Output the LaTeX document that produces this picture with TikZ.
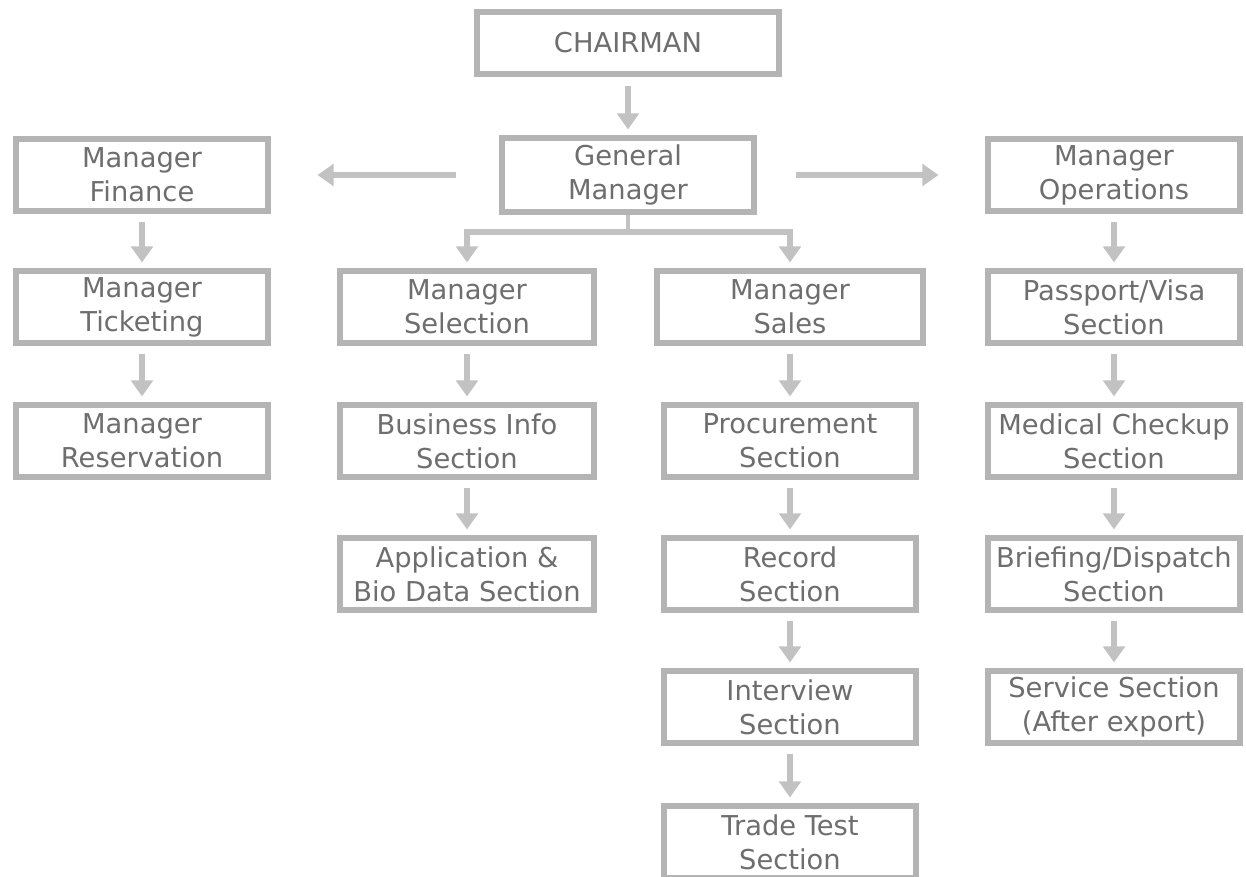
\documentclass[tikz,border=0pt]{standalone}
\usepackage{fontspec}
\setmainfont{DejaVu Sans}
\usetikzlibrary{arrows.meta}
\definecolor{boxc}{HTML}{B4B4B4}
\definecolor{txtc}{HTML}{6E6E6E}
\definecolor{arrc}{HTML}{C2C2C2}
\begin{document}
\begin{tikzpicture}[x=0.75pt,y=-0.75pt,
  box/.style={draw=boxc, line width=4.3pt, fill=white, text=txtc, align=center,
    font=\fontsize{20.5}{25.5}\selectfont, minimum width=189pt, minimum height=54.5pt, inner sep=0pt},
  arr/.style={draw=arrc, line width=5pt, -{Triangle[width=16pt,length=12pt]}},
  link/.style={draw=arrc, line width=3.5pt}]
\useasboundingbox[fill=white] (0,0) rectangle (1246,877);
% nodes
\node[box, minimum width=227pt, minimum height=46.5pt] (ch) at (628,43) {CHAIRMAN};
\node[box, minimum height=56pt] (gm) at (628,175) {General\\Manager};
\node[box] (fin) at (142,175) {Manager\\Finance};
\node[box] (tic) at (142,307) {Manager\\Ticketing};
\node[box] (res) at (142,441) {Manager\\Reservation};
\node[box, minimum width=191pt] (sel) at (467,307) {Manager\\Selection};
\node[box, minimum width=191pt] (bus) at (467,441) {Business Info\\Section};
\node[box, minimum width=191pt] (app) at (467,574) {Application \&\\Bio Data Section};
\node[box, minimum width=200pt] (sal) at (790,307) {Manager\\Sales};
\node[box] (pro) at (790,441) {Procurement\\Section};
\node[box] (rec) at (790,574) {Record\\Section};
\node[box] (int) at (790,707) {Interview\\Section};
\node[box] (tra) at (790,842) {Trade Test\\Section};
\node[box] (ops) at (1114,175) {Manager\\Operations};
\node[box] (pas) at (1114,307) {Passport/Visa\\Section};
\node[box] (med) at (1114,441) {Medical Checkup\\Section};
\node[box] (bri) at (1114,574) {Briefing/Dispatch\\Section};
\node[box] (ser) at (1114,707) {Service Section\\(After export)};
% connectors
\draw[arr, shorten <=7pt, shorten >=4pt] (ch) -- (gm);
\draw[arr, shorten <=32pt, shorten >=35pt] (gm) -- (fin);
\draw[arr, shorten <=29pt, shorten >=35pt] (gm) -- (ops);
\coordinate (bj) at (628,232);
\draw[link] (gm.south) -- (bj);
\draw[arr, shorten >=4pt] (bj) -| (sel);
\draw[arr, shorten >=4pt] (bj) -| (sal);
\foreach \a/\b in {fin/tic, tic/res, sel/bus, bus/app, sal/pro, pro/rec, rec/int, int/tra, ops/pas, pas/med, med/bri, bri/ser}
  \draw[arr, shorten <=6pt, shorten >=4pt] (\a) -- (\b);
\end{tikzpicture}
\end{document}
